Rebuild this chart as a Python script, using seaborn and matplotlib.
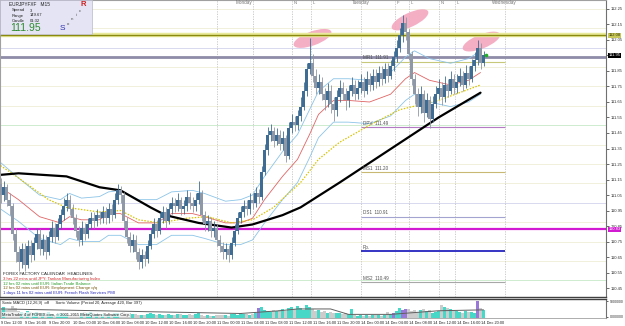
import numpy as np
import pandas as pd
import matplotlib
matplotlib.use("Agg")
import matplotlib.pyplot as plt
import matplotlib.transforms as mtransforms
from matplotlib.patches import Ellipse, Rectangle
import seaborn as sns

sns.set_theme(style="white")
plt.rcParams['font.family'] = ['Liberation Sans', 'DejaVu Sans']

# ============================ DADOS ============================

# 30-min candles, index 0 = 9 Dec 12:00
open_first = 111.12
close = [111.05, 111.10, 111.02, 110.98, 110.80, 110.68, 110.62, 110.70, 110.60, 110.72,
         110.66, 110.74, 110.80, 110.70, 110.76, 110.68, 110.78, 110.84, 110.78, 110.86,
         110.92, 110.98, 111.02, 110.96, 110.90, 110.82, 110.76, 110.84, 110.80, 110.86,
         110.90, 110.88, 110.92, 110.90, 110.94, 110.90, 110.96, 110.92, 111.02, 111.08,
         111.05, 110.88, 110.78, 110.72, 110.76, 110.68, 110.62, 110.66, 110.64, 110.72,
         110.80, 110.86, 110.82, 110.90, 110.94, 110.88, 110.96, 111.00, 110.98, 111.02,
         110.96, 110.98, 111.04, 111.00, 110.98, 111.02, 111.06, 110.92, 110.86, 110.88,
         110.82, 110.84, 110.76, 110.72, 110.68, 110.70, 110.66, 110.74, 110.82, 110.90,
         110.94, 110.98, 110.96, 111.02, 111.00, 111.06, 111.04, 111.20, 111.34, 111.44,
         111.46, 111.40, 111.44, 111.38, 111.42, 111.30, 111.48, 111.52, 111.50, 111.56,
         111.62, 111.72, 111.86, 111.90, 111.82, 111.74, 111.78, 111.70, 111.66, 111.72,
         111.64, 111.60, 111.68, 111.74, 111.70, 111.66, 111.72, 111.76, 111.70, 111.74,
         111.78, 111.72, 111.80, 111.76, 111.82, 111.78, 111.84, 111.80, 111.86, 111.82,
         111.88, 111.94, 112.00, 112.08, 112.16, 112.10, 111.96, 111.80, 111.70, 111.62,
         111.70, 111.58, 111.66, 111.54, 111.64, 111.70, 111.74, 111.68, 111.76, 111.72,
         111.80, 111.74, 111.78, 111.82, 111.76, 111.84, 111.80, 111.88, 111.92, 112.00,
         111.90, 111.95]
high = [111.16, 111.14, 111.12, 111.06, 111.00, 110.84, 110.72, 110.74, 110.74, 110.76,
        110.76, 110.78, 110.84, 110.83, 110.80, 110.79, 110.82, 110.88, 110.87, 110.90,
        110.96, 111.03, 111.06, 111.05, 110.99, 110.93, 110.85, 110.88, 110.87, 110.90,
        110.94, 110.94, 110.96, 110.95, 110.98, 110.97, 111.00, 110.99, 111.06, 111.12,
        111.11, 111.07, 110.91, 110.81, 110.80, 110.79, 110.71, 110.70, 110.69, 110.76,
        110.84, 110.90, 110.89, 110.94, 110.98, 110.97, 111.00, 111.04, 111.03, 111.06,
        111.04, 111.02, 111.08, 111.07, 111.04, 111.06, 111.14, 111.08, 110.95, 110.92,
        110.91, 110.88, 110.86, 110.79, 110.75, 110.74, 110.73, 110.78, 110.86, 110.94,
        110.98, 111.02, 111.02, 111.06, 111.06, 111.10, 111.09, 111.24, 111.38, 111.49,
        111.51, 111.49, 111.48, 111.47, 111.46, 111.44, 111.52, 111.57, 111.56, 111.60,
        111.68, 111.78, 111.90, 112.06, 111.96, 111.86, 111.83, 111.81, 111.74, 111.77,
        111.76, 111.68, 111.73, 111.79, 111.78, 111.74, 111.76, 111.81, 111.79, 111.79,
        111.83, 111.81, 111.85, 111.84, 111.86, 111.86, 111.88, 111.88, 111.90, 111.90,
        111.92, 111.98, 112.05, 112.13, 112.21, 112.20, 112.12, 111.98, 111.83, 111.74,
        111.75, 111.73, 111.71, 111.69, 111.69, 111.75, 111.80, 111.78, 111.82, 111.80,
        111.85, 111.83, 111.83, 111.87, 111.85, 111.89, 111.88, 111.93, 111.97, 112.05,
        112.03, 111.98]
low = [111.00, 111.01, 110.98, 110.92, 110.76, 110.62, 110.56, 110.58, 110.56, 110.58,
       110.62, 110.63, 110.70, 110.66, 110.66, 110.64, 110.66, 110.75, 110.74, 110.76,
       110.83, 110.89, 110.95, 110.92, 110.86, 110.78, 110.72, 110.73, 110.76, 110.77,
       110.83, 110.84, 110.85, 110.86, 110.87, 110.86, 110.87, 110.88, 110.90, 110.99,
       111.00, 110.84, 110.74, 110.68, 110.68, 110.64, 110.57, 110.58, 110.59, 110.61,
       110.70, 110.77, 110.78, 110.80, 110.87, 110.84, 110.86, 110.93, 110.94, 110.95,
       110.92, 110.93, 110.95, 110.96, 110.94, 110.95, 110.99, 110.88, 110.82, 110.82,
       110.78, 110.78, 110.72, 110.68, 110.64, 110.64, 110.62, 110.64, 110.72, 110.80,
       110.87, 110.91, 110.92, 110.93, 110.96, 110.97, 111.00, 111.02, 111.18, 111.31,
       111.40, 111.36, 111.37, 111.34, 111.34, 111.26, 111.28, 111.45, 111.46, 111.47,
       111.53, 111.60, 111.69, 111.83, 111.78, 111.70, 111.70, 111.66, 111.60, 111.62,
       111.58, 111.53, 111.56, 111.65, 111.66, 111.60, 111.62, 111.69, 111.66, 111.67,
       111.71, 111.68, 111.70, 111.72, 111.73, 111.74, 111.75, 111.76, 111.77, 111.78,
       111.80, 111.85, 111.91, 111.97, 112.04, 112.05, 111.92, 111.76, 111.64, 111.56,
       111.58, 111.52, 111.55, 111.48, 111.52, 111.61, 111.67, 111.63, 111.65, 111.68,
       111.70, 111.70, 111.71, 111.75, 111.72, 111.74, 111.76, 111.78, 111.85, 111.89,
       111.86, 111.88]

volume = [55, 60, 45, 50, 65, 55, 40, 35, 30, 40, 35, 30, 35, 25, 30, 28, 32,
          20, 18, 22, 25, 20, 18, 15, 20, 22, 18, 30, 35, 28, 32, 25, 20, 18, 22, 15, 18,
          20, 25, 30, 22, 35, 30, 25, 20, 22, 18, 15, 18, 20, 25, 22, 18, 20, 15, 18, 20,
          18, 15, 20, 22, 18, 16, 20, 18, 22, 25, 15, 12, 14, 10, 12, 15, 18, 14, 16, 12,
          20, 22, 18, 25, 20, 22, 18, 20, 25, 55, 60, 45, 40, 35, 42, 38, 45, 50, 40, 55,
          60, 50, 65, 55, 45, 70, 60, 50, 40, 45, 35, 40, 30, 35, 25, 28, 30, 22, 25, 20,
          50, 15, 12, 15, 10, 14, 12, 16, 18, 14, 12, 15, 35, 20, 25, 40, 55, 45, 50, 48,
          40, 45, 35, 42, 50, 38, 45, 30, 35, 40, 70, 60, 55, 50, 45, 40, 35, 30, 38, 32,
          35, 30, 95, 55, 45]
climax_bars = [86, 131, 134, 135, 159]
vol_avg_bar = [0, 33, 80, 93, 99, 110, 116, 130, 146, 161]
vol_avg = [50, 40, 25, 40, 50, 50, 20, 20, 40, 45]

# moving averages, sampled points
black_bar = [0, 6, 22, 33, 40, 50, 55, 66, 77, 84, 94, 100, 113, 124, 135, 146, 160]
black_ma = [111.18, 111.19, 111.17, 111.10, 111.08, 110.97, 110.92, 110.87, 110.84, 110.86,
            110.92, 110.97, 111.13, 111.27, 111.41, 111.55, 111.71]
yellow_bar = [0, 6, 16, 22, 33, 40, 46, 53, 62, 69, 77, 84, 91, 96, 100, 106, 113, 123, 133, 146, 160]
yellow_ma = [111.24, 111.16, 111.02, 110.97, 110.94, 110.95, 110.89, 110.87, 110.90, 110.91,
             110.87, 110.89, 110.97, 111.06, 111.13, 111.28, 111.39, 111.50, 111.60, 111.66, 111.76]
red_bar = [0, 6, 13, 20, 23, 27, 33, 36, 40, 46, 52, 57, 64, 68, 75, 80, 84, 88, 94, 99,
           103, 106, 111, 116, 123, 130, 135, 138, 143, 150, 156, 160]
red_ma = [111.10, 111.02, 110.91, 110.87, 110.91, 110.89, 110.89, 110.93, 110.93, 110.87,
          110.87, 110.93, 110.93, 110.91, 110.87, 110.87, 110.90, 111.02, 111.17, 111.28,
          111.44, 111.57, 111.66, 111.66, 111.65, 111.70, 111.80, 111.84, 111.79, 111.76,
          111.79, 111.84]
band_up = [111.26, 111.16, 111.05, 111.02, 111.06, 111.03, 111.04, 111.07, 111.08, 111.02,
           111.02, 111.07, 111.08, 111.06, 111.01, 111.02, 111.05, 111.17, 111.33, 111.44,
           111.60, 111.72, 111.80, 111.80, 111.79, 111.84, 111.94, 111.98, 111.93, 111.90,
           111.93, 111.98]
band_dn = [110.96, 110.88, 110.77, 110.73, 110.77, 110.75, 110.75, 110.79, 110.79, 110.73,
           110.73, 110.79, 110.79, 110.77, 110.73, 110.73, 110.76, 110.87, 111.02, 111.13,
           111.29, 111.42, 111.52, 111.52, 111.51, 111.56, 111.66, 111.70, 111.65, 111.62,
           111.65, 111.70]

# levels
olive_level = 112.08
price_level = 111.94
bid_price = 111.95
magenta_level = 110.83
pivot_names = ["MR1", "DPV", "MS1", "DS1", "Rp.", "MS2"]
pivot_values = [111.91, 111.49, 111.20, 110.91, 110.69, 110.49]
pivot_labels = ["MR1  111.91", "DPV  111.49", "MS1  111.20", "DS1  110.91", "Rp.", "MS2  110.49"]
quarter_levels = [110.5, 110.625, 110.75, 110.875, 111.0, 111.125, 111.25, 111.375,
                  111.5, 111.625, 111.75, 111.875, 112.0, 112.125, 112.25]
price_ticks = [110.45, 110.55, 110.65, 110.75, 110.85, 110.95, 111.05, 111.15, 111.25, 111.35,
               111.45, 111.55, 111.65, 111.75, 111.85, 111.95, 112.05, 112.15, 112.25]

session_bars = [72, 84, 97, 103.5, 120, 131.5, 136, 146, 151.5, 168]
session_letters = ["", "", "N", "L", "", "F", "L", "N", "L", ""]
day_names = ["Monday", "Tuesday", "Wednesday"]
day_bars = [81, 120, 168]

time_label_bars = [0, 8, 16, 24, 32, 40, 48, 56, 64, 72, 80, 88, 96, 104, 112, 120, 128, 136, 144, 152, 160]
time_labels = ["9 Dec 12:00", "9 Dec 16:00", "9 Dec 20:00", "10 Dec 00:00", "10 Dec 04:00",
               "10 Dec 08:00", "10 Dec 12:00", "10 Dec 16:00", "10 Dec 20:00", "11 Dec 00:00",
               "11 Dec 04:00", "11 Dec 08:00", "11 Dec 12:00", "11 Dec 16:00", "11 Dec 20:00",
               "14 Dec 00:00", "14 Dec 04:00", "14 Dec 08:00", "14 Dec 12:00", "14 Dec 16:00",
               "14 Dec 20:00"]

peak_bars = [104, 136.5, 160.3]
peak_prices = [112.06, 112.18, 112.04]

calendar_lines = ["3 hrs 22 mins until JPY: Tankan Manufacturing Index",
                  "12 hrs 02 mins until EUR: Italian Trade Balance",
                  "12 hrs 02 mins until EUR: Employment Change q/q",
                  "1 days 11 hrs 02 mins until EUR: French Flash Services PMI"]
calendar_colors = ['#d02828', '#289a28', '#7a5a10', '#2828b8']

# ============================ FIGURA ============================

W, H = 625, 326
fig = plt.figure(figsize=(W / 100, H / 100), dpi=100)
fig.patch.set_facecolor('white')
ax = fig.add_axes([0, 1 - 297 / H, 606 / W, 297 / H])
axv = fig.add_axes([0, 1 - 318 / H, 606 / W, 19 / H])

XMIN, XMAX = -0.17, 201.83
ax.set_xlim(XMIN, XMAX)
ax.set_ylim(110.392, 112.308)


def pos(x, y):
    # pixel position inside the main panel -> axes fraction
    return x / 606, 1 - y / 297


# faint quarter levels
for lv in quarter_levels:
    if abs(lv - round(lv)) < 1e-6:
        c = '#d8d8f0'
    elif abs(lv * 2 - round(lv * 2)) < 1e-6:
        c = '#cfeccf'
    else:
        c = '#f0f0dc'
    ax.axhline(lv, color=c, lw=0.7, zorder=0.2)

for b in session_bars:
    ax.axvline(b, color='#c4c4c4', lw=0.6, ls=(0, (1.5, 1.5)), zorder=0.3)

# pink ellipses over the peaks
fig.canvas.draw()
for xb, yp, ang in zip(peak_bars, peak_prices, [20, 25, 22]):
    cx, cy = ax.transData.transform((xb, yp))
    ax.add_patch(Ellipse((cx, cy), 40, 14, angle=ang, transform=mtransforms.IdentityTransform(),
                         facecolor='#f4a6bf', edgecolor='none', alpha=0.9, zorder=0.4))

# horizontal levels
ax.axhline(olive_level, color='#eaea9c', lw=3.2, zorder=0.5)
ax.axhline(olive_level, color='#8a8a10', lw=1.0, zorder=0.6)
ax.axhline(price_level, color='#8e8ca8', lw=2.0, zorder=0.6)
ax.axhline(magenta_level, color='#d21ad2', lw=1.6, zorder=0.6)

pivot_colors = ['#c8c87a', '#b47ac4', '#c8b874', '#a4a4d0', '#3434c4', '#a8a8a8']
for name, val, lab, c in zip(pivot_names, pivot_values, pivot_labels, pivot_colors):
    ax.hlines(val, 120, 168, color=c, lw=1.4 if name == "Rp." else 0.8, zorder=0.7)
    ax.text(120.7, val + 0.008, lab, fontsize=3.3, color='#505050', va='bottom', ha='left', zorder=3)

# moving averages
sns.lineplot(x=red_bar, y=band_up, ax=ax, color='#8cc4e8', lw=0.6, zorder=1)
sns.lineplot(x=red_bar, y=band_dn, ax=ax, color='#8cc4e8', lw=0.6, zorder=1)
sns.lineplot(x=red_bar, y=red_ma, ax=ax, color='#e06464', lw=0.6, zorder=1)
sns.lineplot(x=yellow_bar, y=yellow_ma, ax=ax, color='#d8c400', lw=0.9, ls=(0, (1.2, 1.2)), zorder=1)
sns.lineplot(x=black_bar, y=black_ma, ax=ax, color='black', lw=1.6, zorder=2)

# candles
df = pd.DataFrame({'close': close, 'high': high, 'low': low})
df['open'] = [open_first] + close[:-1]
df['bar'] = np.arange(len(df))
up = df['close'] >= df['open']
bull, bear = '#3e6c92', '#8e98a6'
cols = np.where(up, bull, bear)
ax.vlines(df['bar'], df['low'], df['high'], colors=cols, lw=0.6, zorder=2.5)
body_lo = df[['open', 'close']].min(axis=1)
body_h = (df['close'] - df['open']).abs().clip(lower=0.006)
ax.bar(df['bar'], body_h, bottom=body_lo, width=0.75, color=cols, linewidth=0, zorder=2.6)
ax.plot([len(df) - 0.2], [bid_price], marker='o', ms=1.6, color='#20b020', zorder=3)

# axes styling (the bid box replaces its own tick label)
ax.set_xticks([])
ax.yaxis.tick_right()
ax.set_yticks(price_ticks)
ax.set_yticklabels(["" if abs(t - bid_price) < 1e-6 else f"{t:.2f}" for t in price_ticks],
                   fontsize=3.0, color='#303030')
ax.tick_params(axis='y', length=1.8, width=0.5, pad=1.5, colors='#303030', labelcolor='#303030')
for s in ['left', 'top']:
    ax.spines[s].set_color('#a0a0a0')
    ax.spines[s].set_linewidth(0.8)
ax.spines['right'].set_color('#707070')
ax.spines['right'].set_linewidth(0.8)
ax.spines['bottom'].set_color('#404040')
ax.spines['bottom'].set_linewidth(1.0)

ytr = ax.get_yaxis_transform()
for val, fc, tc in [(olive_level, '#c8c85a', '#303000'), (bid_price, 'black', 'white'),
                    (magenta_level, '#d21ad2', 'white')]:
    ax.text(1.004, val, f"{val:.2f}", transform=ytr, fontsize=3.0, color=tc, va='center', ha='left',
            bbox=dict(boxstyle='square,pad=0.12', facecolor=fc, edgecolor='none'), clip_on=False, zorder=5)

# day names and session letters
for name, b in zip(day_names, day_bars):
    ax.text(b, 112.29, name, fontsize=3.3, color='#707070', ha='center', va='center')
for b, letter in zip(session_bars, session_letters):
    if letter:
        ax.text(b + 0.6, 112.29, letter, fontsize=3.0, color='#707070', ha='left', va='center')

# info box
ax.add_patch(Rectangle(pos(0, 34), 92 / 606, 34 / 297, transform=ax.transAxes,
                       facecolor='#e4e4f4', edgecolor='#b8b8cc', lw=0.5, zorder=4))
ax.text(*pos(9, 5), "EURJPYFXF   M15", transform=ax.transAxes, fontsize=3.4, color='#202020',
        va='center', ha='left', zorder=5)
for k, (a, b) in enumerate([("Spread", "3"), ("Range", "149.67"), ("Candle", "01:32")]):
    ax.text(*pos(12, 10.5 + 5 * k), a, transform=ax.transAxes, fontsize=3.0, color='#202020', va='center', zorder=5)
    ax.text(*pos(30, 10.5 + 5 * k), b, transform=ax.transAxes, fontsize=3.0, color='#202020', va='center', zorder=5)
ax.text(*pos(10, 28), f"{bid_price:.2f}", transform=ax.transAxes, fontsize=7.5, color='#2e8b2e',
        va='center', ha='left', zorder=5)
ax.text(*pos(62, 29), "S", transform=ax.transAxes, fontsize=6, color='#3030b0', va='center', ha='center', zorder=5)
for k, ch in enumerate("onic"):
    ax.text(*pos(68 + 4 * k, 24 - 4.5 * k), ch, transform=ax.transAxes, fontsize=3.2, color='#505050',
            va='center', ha='center', zorder=5)
ax.text(*pos(83, 5), "R", transform=ax.transAxes, fontsize=5.5, color='#d02020', fontweight='bold',
        va='center', ha='center', zorder=5)

# calendar headlines
ax.text(*pos(3, 274), "FOREX FACTORY CALENDAR  HEADLINES:", transform=ax.transAxes, fontsize=3.2,
        color='#202020', va='center', zorder=5)
for k, (line, c) in enumerate(zip(calendar_lines, calendar_colors)):
    ax.text(*pos(3, 279 + 4.6 * k), line, transform=ax.transAxes, fontsize=3.1, color=c, va='center', zorder=5)

# ============================ VOLUME ============================

axv.set_xlim(XMIN, XMAX)
axv.set_ylim(0, 105)
vol_cols = np.where(up, '#48d8c8', '#cccccc').astype(object)
for b in climax_bars:
    vol_cols[b] = '#9a78d8'
axv.bar(df['bar'], volume, width=0.75, color=list(vol_cols), linewidth=0)
sns.lineplot(x=vol_avg_bar, y=vol_avg, ax=axv, color='#606060', lw=0.7)
axv.set_yticks([8, 92])
axv.set_yticklabels(["0000000", "9000000"], fontsize=2.5, color='#303030')
axv.yaxis.tick_right()
axv.set_xticks(time_label_bars)
axv.set_xticklabels(time_labels, fontsize=2.8, ha='left', color='#202020')
axv.tick_params(axis='x', length=1.5, width=0.5, pad=1.0)
axv.tick_params(axis='y', length=1.5, width=0.5, pad=1.5)
for s in ['left', 'bottom']:
    axv.spines[s].set_color('#a0a0a0')
    axv.spines[s].set_linewidth(0.6)
axv.spines['top'].set_color('#404040')
axv.spines['top'].set_linewidth(1.0)
axv.spines['right'].set_color('#707070')
axv.spines['right'].set_linewidth(0.8)
axv.text(2 / 606, 0.78, "Sonic MACD (12,26,9)  off      Sonic Volume (Period 20, Average 420, Bar 397)",
         transform=axv.transAxes, fontsize=2.9, color='#202020', va='center')
axv.text(2 / 606, 0.18, "MetaTrader 4 of FOREX.com, \u00a9 2001-2015 MetaQuotes Software Corp.",
         transform=axv.transAxes, fontsize=2.9, color='#202020', va='center',
         bbox=dict(boxstyle='square,pad=0.1', facecolor='white', edgecolor='none', alpha=0.7))

fig.savefig("out.png", dpi=100)
